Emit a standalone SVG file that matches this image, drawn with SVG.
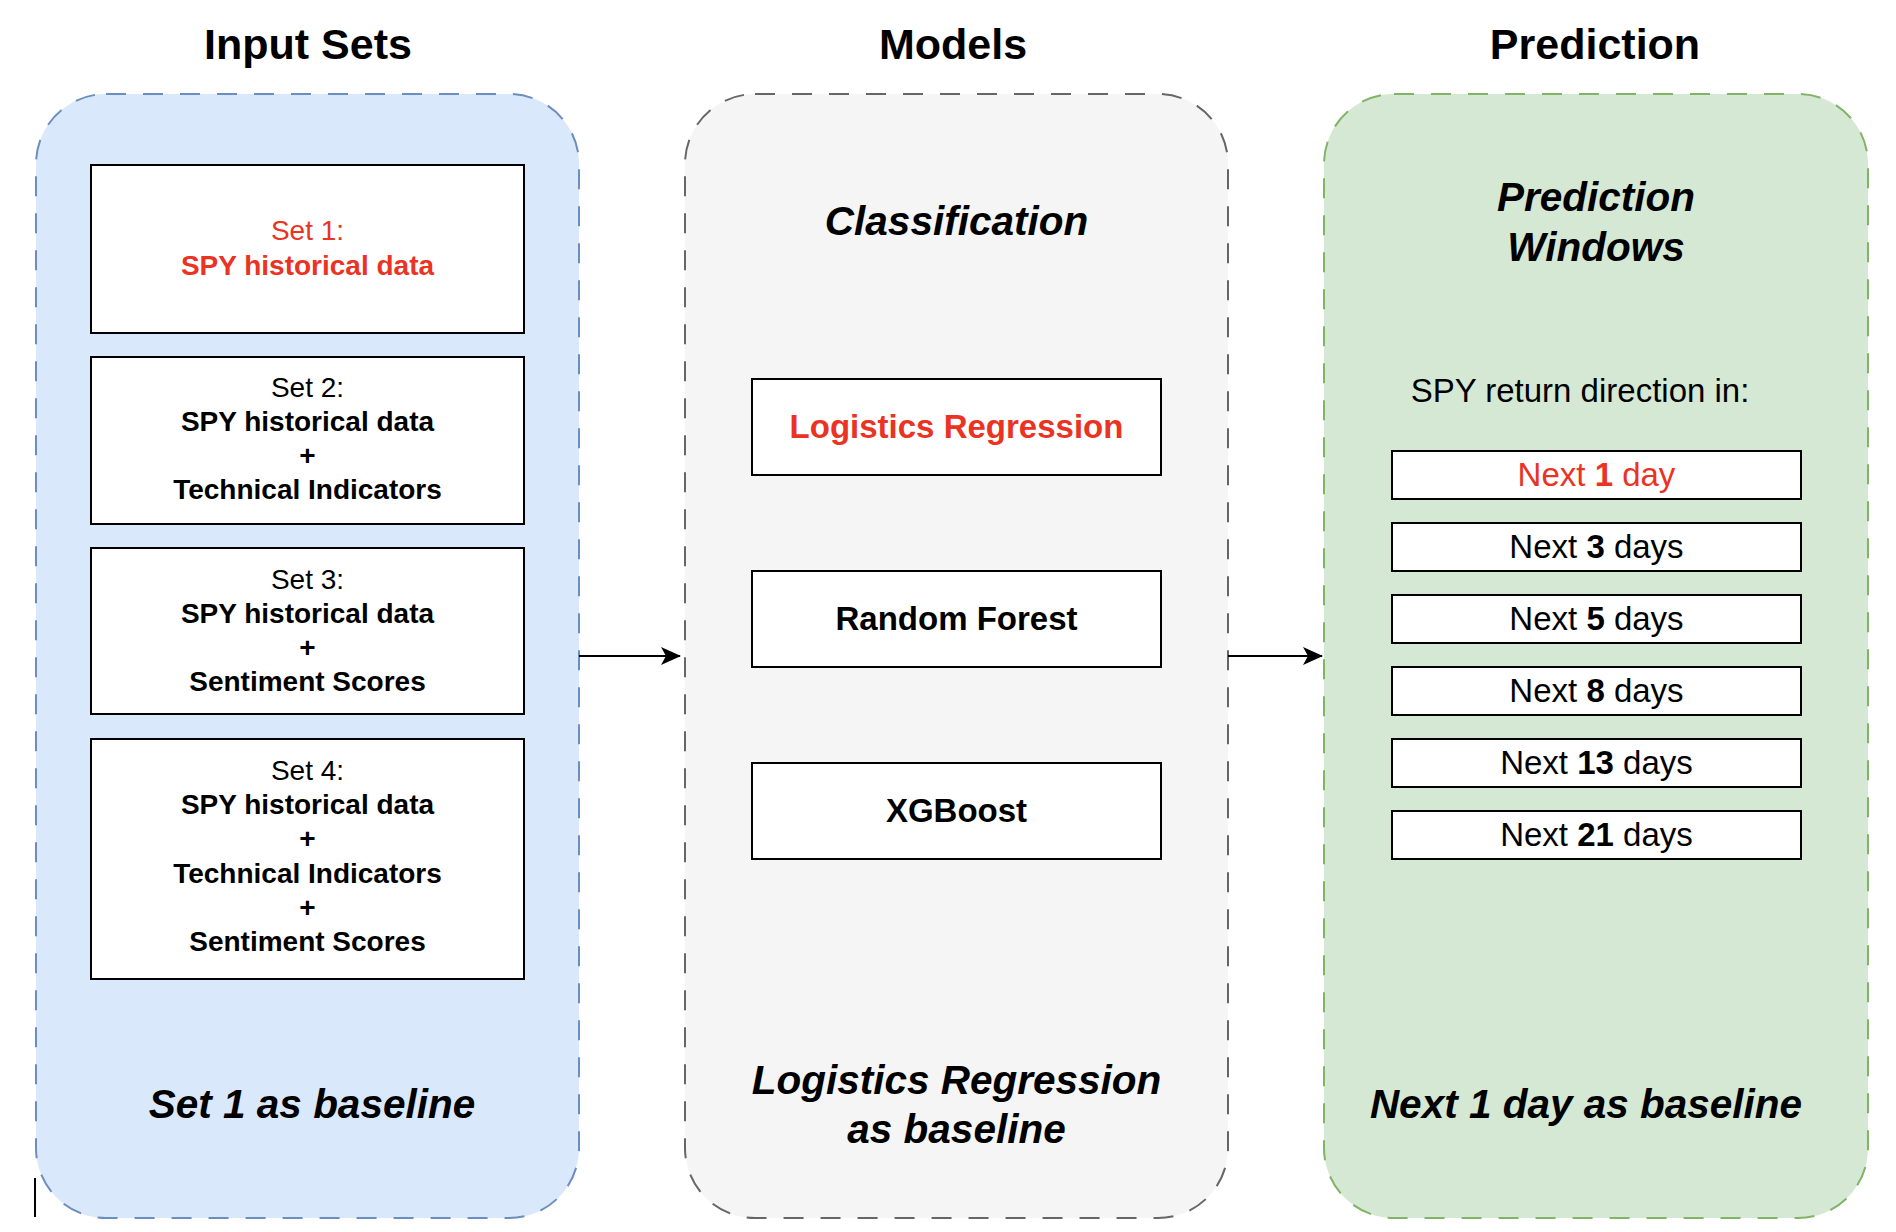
<svg xmlns="http://www.w3.org/2000/svg" width="1896" height="1232" viewBox="0 0 1896 1232">
<defs>
<marker id="arr" markerWidth="20" markerHeight="18" refX="19" refY="9" orient="auto" markerUnits="userSpaceOnUse">
<path d="M0,0 L20,9 L0,18 L5,9 Z" fill="#000"/>
</marker>
</defs>
<style>
text{font-family:"Liberation Sans",Arial,sans-serif;text-anchor:middle;fill:#000;}
.title{font-size:43px;font-weight:bold;}
.panel{stroke-width:2;stroke-dasharray:20 17;}
.box{fill:#fff;stroke:#000;stroke-width:2;}
.t28{font-size:28px;}
.b{font-weight:bold;}
.red{fill:#ea3323;}
.it{font-size:40.5px;font-weight:bold;font-style:italic;}
.m{font-size:33px;font-weight:bold;}
.n{font-size:33px;}
</style>
<rect x="0" y="0" width="1896" height="1232" fill="#fff"/>

<g id="titles">
<text class="title" x="308" y="59">Input Sets</text>
<text class="title" x="953" y="59">Models</text>
<text class="title" x="1595" y="59">Prediction</text>
</g>

<g id="panel-input">
<rect class="panel" x="36" y="94" width="543" height="1124" rx="70" ry="70" fill="#dae8fc" stroke="#6c8ebf"/>
<text class="it" x="312" y="1118">Set 1 as baseline</text>
</g>
<g id="set1">
<rect class="box" x="91" y="165" width="433" height="168"/>
<text class="t28 red" x="307.5" y="240">Set 1:</text>
<text class="t28 b red" x="307.5" y="275">SPY historical data</text>
</g>
<g id="set2">
<rect class="box" x="91" y="357" width="433" height="167"/>
<text class="t28" x="307.5" y="397">Set 2:</text>
<text class="t28 b" x="307.5" y="431">SPY historical data</text>
<text class="t28 b" x="307.5" y="465">+</text>
<text class="t28 b" x="307.5" y="499">Technical Indicators</text>
</g>
<g id="set3">
<rect class="box" x="91" y="548" width="433" height="166"/>
<text class="t28" x="307.5" y="589">Set 3:</text>
<text class="t28 b" x="307.5" y="623">SPY historical data</text>
<text class="t28 b" x="307.5" y="657">+</text>
<text class="t28 b" x="307.5" y="691">Sentiment Scores</text>
</g>
<g id="set4">
<rect class="box" x="91" y="739" width="433" height="240"/>
<text class="t28" x="307.5" y="780">Set 4:</text>
<text class="t28 b" x="307.5" y="814">SPY historical data</text>
<text class="t28 b" x="307.5" y="848">+</text>
<text class="t28 b" x="307.5" y="883">Technical Indicators</text>
<text class="t28 b" x="307.5" y="917">+</text>
<text class="t28 b" x="307.5" y="951">Sentiment Scores</text>
</g>

<g id="panel-models">
<rect class="panel" x="685" y="94" width="543" height="1124" rx="70" ry="70" fill="#f5f5f5" stroke="#666666"/>
<text class="it" x="956.5" y="235">Classification</text>
<text class="it" x="956.5" y="1094">Logistics Regression</text>
<text class="it" x="956.5" y="1143">as baseline</text>
</g>
<g id="model-lr">
<rect class="box" x="752" y="379" width="409" height="96"/>
<text class="m red" x="956.5" y="438">Logistics Regression</text>
</g>
<g id="model-rf">
<rect class="box" x="752" y="571" width="409" height="96"/>
<text class="m" x="956.5" y="630">Random Forest</text>
</g>
<g id="model-xgb">
<rect class="box" x="752" y="763" width="409" height="96"/>
<text class="m" x="956.5" y="822">XGBoost</text>
</g>

<g id="panel-prediction">
<rect class="panel" x="1324" y="94" width="544" height="1124" rx="70" ry="70" fill="#d5e8d4" stroke="#82b366"/>
<text class="it" x="1596" y="211">Prediction</text>
<text class="it" x="1596" y="261">Windows</text>
<text class="n" x="1580" y="402" fill="#1a1a1a">SPY return direction in:</text>
<text class="it" x="1586" y="1118">Next 1 day as baseline</text>
</g>
<g id="win1">
<rect class="box" x="1392" y="451" width="409" height="48"/>
<text class="n red" x="1596.5" y="486">Next <tspan font-weight="bold">1</tspan> day</text>
</g>
<g id="win3">
<rect class="box" x="1392" y="523" width="409" height="48"/>
<text class="n" x="1596.5" y="558">Next <tspan font-weight="bold">3</tspan> days</text>
</g>
<g id="win5">
<rect class="box" x="1392" y="595" width="409" height="48"/>
<text class="n" x="1596.5" y="630">Next <tspan font-weight="bold">5</tspan> days</text>
</g>
<g id="win8">
<rect class="box" x="1392" y="667" width="409" height="48"/>
<text class="n" x="1596.5" y="702">Next <tspan font-weight="bold">8</tspan> days</text>
</g>
<g id="win13">
<rect class="box" x="1392" y="739" width="409" height="48"/>
<text class="n" x="1596.5" y="774">Next <tspan font-weight="bold">13</tspan> days</text>
</g>
<g id="win21">
<rect class="box" x="1392" y="811" width="409" height="48"/>
<text class="n" x="1596.5" y="846">Next <tspan font-weight="bold">21</tspan> days</text>
</g>

<g id="connectors" stroke="#000" stroke-width="2" fill="none">
<line x1="579" y1="656" x2="680" y2="656" marker-end="url(#arr)"/>
<line x1="1228" y1="656" x2="1322" y2="656" marker-end="url(#arr)"/>
</g>

<line x1="35" y1="1178" x2="35" y2="1217" stroke="#000" stroke-width="2"/>
</svg>
